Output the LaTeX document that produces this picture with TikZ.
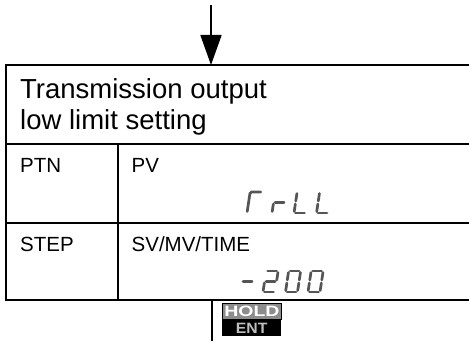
\documentclass[tikz,border=0pt]{standalone}
\usepackage{fontspec}
\setmainfont{Liberation Sans}
\usetikzlibrary{arrows.meta}
\definecolor{segcol}{RGB}{85,85,85}
\tikzset{
  frameline/.style={line width=2.2pt},
  cellline/.style={line width=2pt},
  lbl/.style={anchor=base west, inner sep=0pt, font=\fontsize{20.5}{24}\selectfont},
  title/.style={anchor=base west, inner sep=0pt, font=\fontsize{27.5}{31}\selectfont},
  seg/.style={draw=segcol, line width=2.7pt, line cap=round},
  keytxt/.style={inner sep=0pt, font=\fontsize{15}{15}\bfseries\selectfont}
}
\newcommand{\segA}{\draw[seg] (1.5,21)--(10.5,21);}
\newcommand{\segB}{\draw[seg] (12,12)--(12,19.5);}
\newcommand{\segC}{\draw[seg] (12,1.5)--(12,9);}
\newcommand{\segD}{\draw[seg] (1.5,0)--(10.5,0);}
\newcommand{\segE}{\draw[seg] (0,1.5)--(0,9);}
\newcommand{\segF}{\draw[seg] (0,12)--(0,19.5);}
\newcommand{\segG}{\draw[seg] (1.5,10.5)--(10.5,10.5);}
\newcommand{\sevglyph}[3]{\begin{scope}[shift={(#1,#2)}, xslant=0.15]#3\end{scope}}
\begin{document}
\begin{tikzpicture}[x=1pt,y=1pt]
\useasboundingbox (0,0) rectangle (469,341);
% frame
\coordinate (tl) at (6,276);
\coordinate (tr) at (469,276);
\coordinate (bl) at (6,41);
\coordinate (br) at (469,41);
\coordinate (m1l) at (6,197);
\coordinate (m1r) at (469,197);
\coordinate (m2l) at (6,118);
\coordinate (m2r) at (469,118);
\coordinate (vt) at (118,197);
\coordinate (vb) at (118,41);
\draw[frameline] (tr) -- (tl) -- (bl) -- (br);
\draw[cellline] (m1l) -- (m1r);
\draw[cellline] (m2l) -- (m2r);
\draw[cellline] (vt) -- (vb);
% texts
\node[title] (t1) at (20,243) {Transmission output};
\node[title] (t2) at (20,212) {low limit setting};
\node[lbl] (ptn) at (20,169) {PTN};
\node[lbl] (pv) at (131.5,169) {PV};
\node[lbl] (stp) at (20,90) {STEP};
\node[lbl] (sv) at (131.5,90) {SV/MV/TIME};
% arrows
\coordinate (ain) at (211,336);
\coordinate (atip) at (211,276);
\draw[line width=1.8pt, -{Triangle[length=30pt,width=21pt]}] (ain) -- (atip);
\coordinate (lt) at (211.5,41);
\coordinate (lb) at (211.5,0);
\draw[line width=2pt] (lt) -- (lb);
% 7-seg row 1
\sevglyph{247}{128}{\draw[seg] (10.5,21)--(1.5,21)--(0,19.5)--(0,1.5);}
\sevglyph{272}{128}{\segE\segG}
\sevglyph{294}{128}{\segF\segE\segD}
\sevglyph{316.5}{128}{\segF\segE\segD}
% 7-seg row 2
\sevglyph{240}{49}{\segG}
\sevglyph{263}{49}{\segA\segB\segG\segE\segD}
\sevglyph{285.5}{49}{\segA\segB\segC\segD\segE\segF}
\sevglyph{308}{49}{\segA\segB\segC\segD\segE\segF}
% HOLD / ENT key
\node[draw=black, line width=0.8pt, fill=black!45, minimum width=59pt, minimum height=16pt, inner sep=0pt, anchor=south west] (hold) at (222,21) {};
\node[fill=black, minimum width=59pt, minimum height=16pt, inner sep=0pt, anchor=north west] (ent) at (222,21) {};
\node[keytxt, text=white, xscale=1.3] (holdt) at (hold.center) {HOLD};
\node[keytxt, text=black!25, xscale=1.05] (entt) at (ent.center) {ENT};
\end{tikzpicture}
\end{document}
